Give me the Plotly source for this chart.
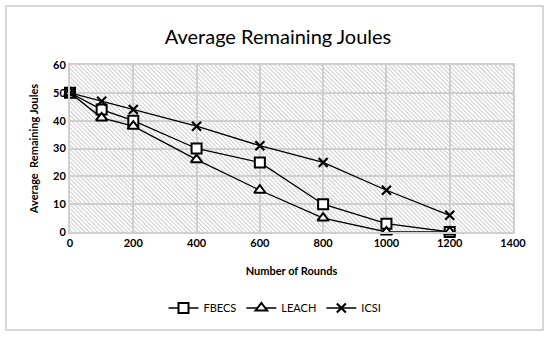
import base64
import plotly.graph_objects as go

rounds = [0, 100, 200, 400, 600, 800, 1000, 1200]
fbecs = [50, 44, 40, 30, 25, 10, 3, 0]
leach = [50, 41, 38, 26, 15, 5, 0, 0]
icsi = [50, 47, 44, 38, 31, 25, 15, 6]
x_ticks = [0, 200, 400, 600, 800, 1000, 1200, 1400]
y_ticks = [0, 10, 20, 30, 40, 50, 60]

W, H = 550, 337
ml, mr, mt, mb = 70, 37, 65, 105
pw, ph = W - ml - mr, H - mt - mb

svg = (
    f"<svg xmlns='http://www.w3.org/2000/svg' width='{pw}' height='{ph}'>"
    "<defs><pattern id='h' width='3' height='3' patternUnits='userSpaceOnUse' "
    "patternTransform='rotate(-45)'><rect width='3' height='3' fill='white'/>"
    "<line x1='0' y1='0' x2='0' y2='3' stroke='#b8b8b8' stroke-width='1.4'/></pattern></defs>"
    "<rect width='100%' height='100%' fill='url(#h)'/></svg>"
)
img = "data:image/svg+xml;base64," + base64.b64encode(svg.encode()).decode()

fig = go.Figure()
line = dict(color="black", width=1.3)
fig.add_trace(go.Scatter(x=rounds, y=fbecs, name="FBECS", mode="lines+markers", line=line,
                         cliponaxis=False,
                         marker=dict(symbol="square", size=10, color="white",
                                     line=dict(color="black", width=2))))
fig.add_trace(go.Scatter(x=rounds, y=leach, name="LEACH", mode="lines+markers", line=line,
                         cliponaxis=False,
                         marker=dict(symbol="triangle-up", size=10, color="white",
                                     line=dict(color="black", width=2))))
fig.add_trace(go.Scatter(x=rounds, y=icsi, name="ICSI", mode="lines+markers", line=line,
                         cliponaxis=False,
                         marker=dict(symbol="x-thin", size=9, color="black",
                                     line=dict(color="black", width=2.2))))

fig.add_layout_image(dict(source=img, xref="x domain", yref="y domain", x=0, y=1,
                          sizex=1, sizey=1, sizing="stretch", layer="below",
                          xanchor="left", yanchor="top"))

fig.add_shape(type="rect", xref="paper", yref="paper",
              x0=(6 - ml) / pw, x1=(543 - ml) / pw,
              y0=(H - mb - 330) / ph, y1=(H - mb - 6) / ph,
              line=dict(color="#d6d6d6", width=2), layer="below")

font = "Lato, 'Open Sans', sans-serif"
fig.update_layout(
    width=W, height=H,
    margin=dict(l=ml, r=mr, t=mt, b=mb),
    paper_bgcolor="white", plot_bgcolor="rgba(0,0,0,0)",
    title=dict(text="Average Remaining Joules", x=(278) / W, xanchor="center",
               y=1 - 37 / H, yanchor="middle", yref="container",
               font=dict(family=font, size=20, color="black")),
    font=dict(family=font, color="black"),
    showlegend=True,
    legend=dict(orientation="h", x=(275 - ml) / pw, xanchor="center",
                y=(H - mb - 308) / ph, yanchor="middle",
                font=dict(family=font, size=11, color="black"),
                bgcolor="rgba(0,0,0,0)", itemwidth=30, tracegroupgap=0),
)
fig.update_xaxes(range=[0, 1400], tickvals=x_ticks, showgrid=True, gridcolor="#cfcfcf",
                 gridwidth=2, zeroline=False, showline=True, linecolor="#cfcfcf",
                 linewidth=2, mirror=True, ticks="",
                 tickfont=dict(family=font, size=11, color="black", weight="bold"),
                 title=dict(text="<b>Number of Rounds</b>", standoff=19,
                            font=dict(family=font, size=11, color="black")))
fig.update_yaxes(range=[0, 60], tickvals=y_ticks, showgrid=True, gridcolor="#cfcfcf",
                 gridwidth=2, zeroline=False, showline=True, linecolor="#cfcfcf",
                 linewidth=2, mirror=True, ticks="",
                 tickfont=dict(family=font, size=11, color="black", weight="bold"),
                 title=dict(text="<b>Average  Remaining Joules</b>", standoff=12,
                            font=dict(family=font, size=11, color="black")))

fig.write_html("out.html", config={"displayModeBar": False},
               post_script="document.body.style.margin='0';")
